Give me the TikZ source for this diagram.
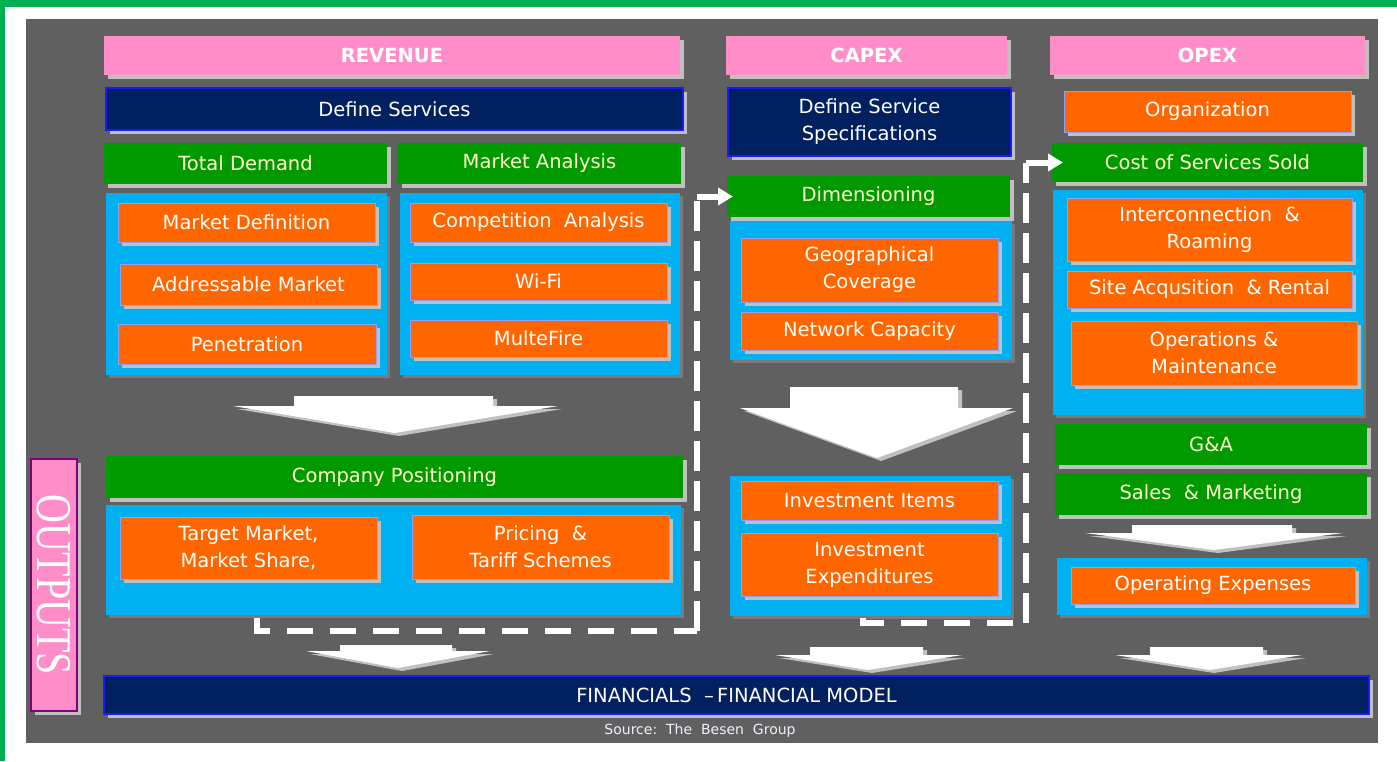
\documentclass[tikz,border=0pt]{standalone}
\usepackage{fontspec}
\setmainfont{DejaVu Sans}
\newfontfamily\outfont{Liberation Serif}
\usetikzlibrary{shadows,arrows.meta,calc}
\definecolor{bggray}{HTML}{606060}
\definecolor{pinkc}{HTML}{FF8EC8}
\definecolor{navyc}{HTML}{002060}
\definecolor{navyb}{HTML}{1A1AFF}
\definecolor{greenc}{HTML}{009900}
\definecolor{bluec}{HTML}{00B0F0}
\definecolor{orangec}{HTML}{FF6600}
\definecolor{orangeb}{HTML}{8FA0FF}
\definecolor{shad}{HTML}{C0C0C0}
\definecolor{blueshad}{HTML}{7A7A7A}
\definecolor{frameg}{HTML}{00B050}
\definecolor{greentext}{HTML}{FFFFCC}
\definecolor{outb}{HTML}{800080}
\definecolor{srctext}{HTML}{EEF2FF}
\tikzset{
 base/.style={rectangle,inner sep=0pt,outer sep=0pt,align=center,font=\fontsize{19.5}{27}\selectfont},
 sh/.style={drop shadow={shadow xshift=4pt,shadow yshift=-4pt,fill=shad,opacity=1}},
 hdr/.style={base,sh,fill=pinkc,text=white,font=\fontsize{19.5}{27}\selectfont\bfseries},
 navybox/.style={base,sh,fill=navyc,draw=navyb,line width=1.2pt,text=white},
 greenbox/.style={base,sh,fill=greenc,text=greentext},
 bluebox/.style={base,fill=bluec,drop shadow={shadow xshift=3pt,shadow yshift=-3pt,fill=blueshad,opacity=1}},
 orangebox/.style={base,sh,fill=orangec,draw=orangeb,line width=0.8pt,text=white},
 outbox/.style={base,sh,fill=pinkc,draw=outb,line width=1.2pt,text=white},
 hdash/.style={white,line width=6pt,dash pattern=on 26pt off 17pt},
 vdash/.style={white,line width=6pt,dash pattern=on 30pt off 10pt},
 solidline/.style={white,line width=6pt},
 tiparrow/.style={-{Triangle[width=17pt,length=15pt]}},
}
% name, x1, y1, x2, y2, style, text
\newcommand\bx[7]{\node[#6,minimum width={(#4-#2)*1pt},minimum height={(#5-#3)*1pt}] (#1) at ({(#2+#4)/2},{(#3+#5)/2}) {#7};}
% shaftL shaftR wingL wingR ytop ywing tipx tipy
\newcommand\bigdown[8]{%
 \begin{scope}[shift={(4,3)}]
  \fill[shad] (#1,#5) -- (#2,#5) -- (#2,#6) -- (#4,#6) -- (#7,#8) -- (#3,#6) -- (#1,#6) -- cycle;
 \end{scope}
 \fill[white] (#1,#5) -- (#2,#5) -- (#2,#6) -- (#4,#6) -- (#7,#8) -- (#3,#6) -- (#1,#6) -- cycle;}
\begin{document}
\begin{tikzpicture}[x=1pt,y=-1pt]
\useasboundingbox (0,0) rectangle (1397,761);
\fill[white] (0,0) rectangle (1397,761);
\fill[frameg] (0,0) rectangle (1397,7);
\fill[frameg] (0,0) rectangle (5,761);
\fill[bggray] (26,19) rectangle (1378,743);

% headers
\bx{rev}{104}{36}{680}{75}{hdr}{REVENUE}
\bx{capex}{726}{36}{1007}{75}{hdr}{CAPEX}
\bx{opex}{1050}{36}{1365}{75}{hdr}{OPEX}

% navy
\bx{defs}{106}{88}{683}{130}{navybox}{Define Services}
\bx{defspec}{728}{88}{1011}{156}{navybox}{Define Service\\Specifications}
\bx{org}{1064}{91}{1351}{132}{orangebox}{Organization}

% green
\bx{td}{104}{143}{387}{184}{greenbox}{Total Demand}
\bx{ma}{398}{143}{681}{184}{greenbox}{Market Analysis}
\bx{coss}{1052}{143}{1363}{182}{greenbox}{Cost of Services Sold}
\bx{dim}{727}{176}{1010}{217}{greenbox}{Dimensioning}

% blue containers
\bx{b1}{106}{193}{387}{375}{bluebox}{}
\bx{b2}{400}{193}{680}{375}{bluebox}{}
\bx{b3}{730}{221}{1012}{360}{bluebox}{}
\bx{b4}{1053}{190}{1363}{415}{bluebox}{}

\bx{md}{118}{203}{375}{242}{orangebox}{Market Definition}
\bx{am}{120}{264}{377}{305}{orangebox}{Addressable Market}
\bx{pen}{118}{324}{376}{364}{orangebox}{Penetration}

\bx{ca}{410}{203}{667}{242}{orangebox}{Competition\ \ Analysis}
\bx{wifi}{410}{263}{667}{300}{orangebox}{Wi-Fi}
\bx{mf}{410}{320}{667}{357}{orangebox}{MulteFire}

\bx{geo}{741}{238}{998}{302}{orangebox}{Geographical\\Coverage}
\bx{nc}{741}{312}{998}{350}{orangebox}{Network Capacity}

\bx{ir}{1067}{198}{1352}{261}{orangebox}{Interconnection\ \ \&\\Roaming}
\bx{sar}{1067}{271}{1352}{308}{orangebox}{Site Acqusition\ \ \& Rental}
\bx{om}{1071}{321}{1357}{385}{orangebox}{Operations \&\\Maintenance}

\bx{ga}{1055}{424}{1367}{465}{greenbox}{G\&A}
\bx{sm}{1055}{473}{1367}{515}{greenbox}{Sales\ \ \& Marketing}
\bx{cp}{106}{456}{683}{498}{greenbox}{Company Positioning}

\bx{b5}{106}{505}{681}{615}{bluebox}{}
\bx{b6}{730}{476}{1011}{616}{bluebox}{}
\bx{b7}{1057}{558}{1367}{615}{bluebox}{}

\bx{tm}{120}{517}{377}{579}{orangebox}{Target Market,\\Market Share,}
\bx{pr}{412}{515}{669}{579}{orangebox}{Pricing\ \ \&\\Tariff Schemes}
\bx{ii}{741}{481}{998}{520}{orangebox}{Investment Items}
\bx{ie}{741}{533}{998}{596}{orangebox}{Investment\\Expenditures}
\bx{oe}{1071}{567}{1355}{604}{orangebox}{Operating Expenses}

\bx{fin}{104}{676}{1369}{714}{navybox}{FINANCIALS\ \ –\,FINANCIAL MODEL}
\bx{out}{31}{459}{77}{711}{outbox}{\rotatebox{-90}{\outfont\fontsize{40}{40}\selectfont\scalebox{1}[1.25]{OUTPUTS}}}

\node[font=\fontsize{14}{16}\selectfont,text=srctext,inner sep=0pt] (src) at (700,731) {Source:\ \ The\ \ Besen\ \ Group};

% big arrows
\bigdown{294}{493}{233}{558}{396}{406}{395}{433}
\bigdown{790}{958}{740}{1013}{387}{408}{877}{458}
\bigdown{1132}{1292}{1085}{1343}{525}{533}{1214}{550}
\bigdown{340}{452}{306}{490}{645}{651}{398}{668}
\bigdown{810}{923}{775}{962}{647}{655}{868}{670}
\bigdown{1150}{1263}{1115}{1302}{647}{655}{1210}{670}

% dashed connectors
\coordinate (pa0) at ([xshift=151pt,yshift=-3pt]b5.south west);
\coordinate (pa1) at (697,631);
\coordinate (pa2) at ([xshift=-30pt]dim.west);
\draw[hdash] (pa0) |- (pa1);
\draw[vdash] (pa1) -- (pa2);
\draw[solidline,tiparrow] (pa2) -- ([xshift=6pt]dim.west);

\coordinate (pb0) at ([xshift=133pt,yshift=-2pt]b6.south west);
\coordinate (pb1) at (1026,623);
\coordinate (pb2) at ([xshift=-26pt]coss.west);
\draw[hdash] (pb0) |- (pb1);
\draw[vdash] (pb1) -- (pb2);
\draw[solidline,tiparrow] (pb2) -- ([xshift=11pt]coss.west);
\end{tikzpicture}
\end{document}
